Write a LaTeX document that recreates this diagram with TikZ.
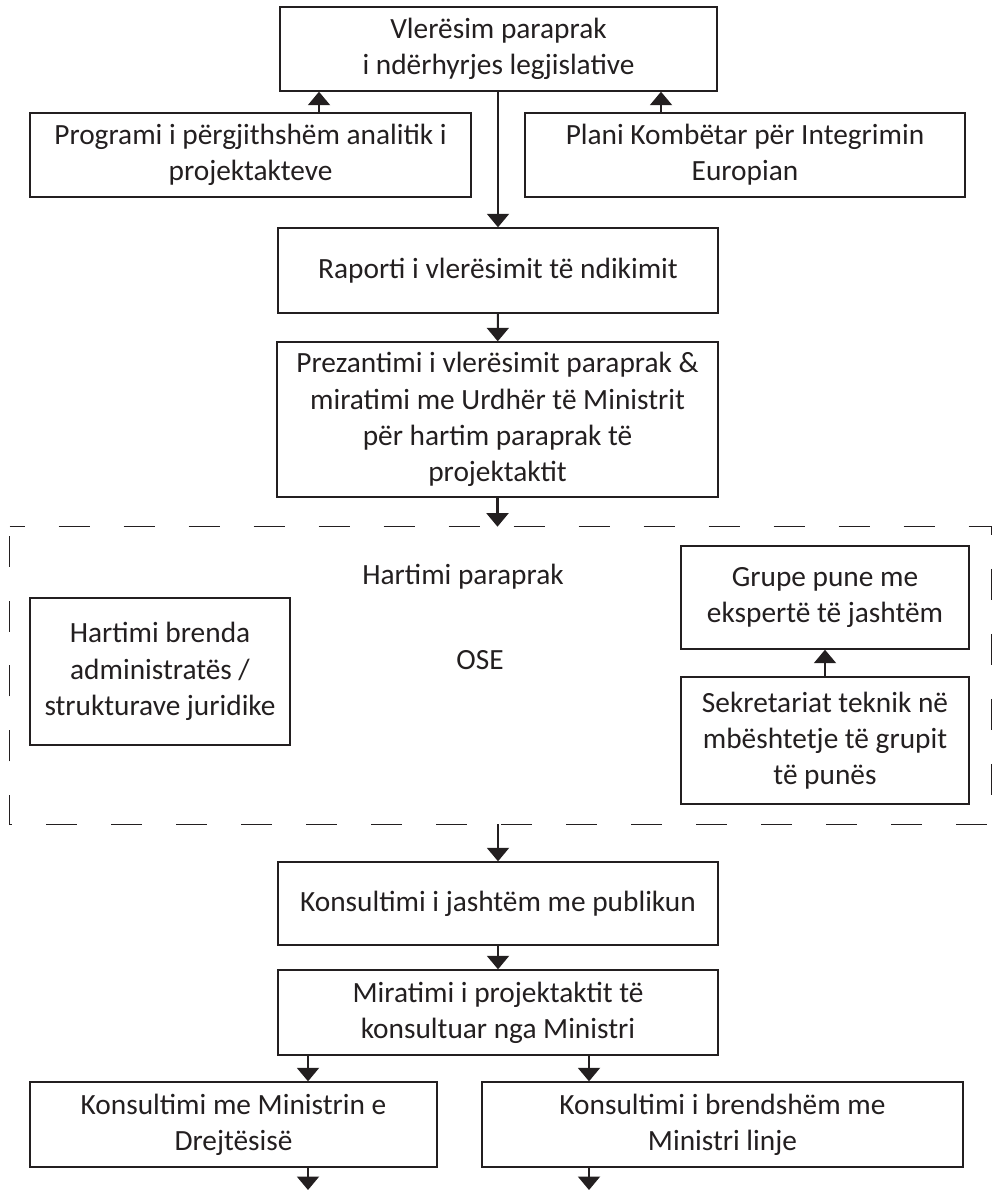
\documentclass[tikz,border=0pt]{standalone}
\usepackage{fontspec}
\setmainfont{Carlito}
\usetikzlibrary{arrows.meta}
\definecolor{ink}{HTML}{231F20}

\begin{document}
\begin{tikzpicture}[x=0.02cm, y=-0.02cm,
                    box/.style={draw=ink, line width=0.8pt, text=ink, align=center,
                                inner sep=2pt, font=\fontsize{16.7}{20.6}\selectfont},
                    dashbox/.style={draw=ink, line width=0.8pt, dash pattern=on 0.62cm off 0.68cm,
                                    dash phase=0.32cm},
                    lbl/.style={text=ink, font=\fontsize{16.7}{20.6}\selectfont},
                    arr/.style={draw=ink, line width=1.2pt, -{Triangle[width=0.44cm, length=0.27cm]}}
                    ]
    \useasboundingbox (0,0) rectangle (993,1190);
    \node[box, minimum width=8.74cm, minimum height=1.68cm] (vler) at (498.5,49)
        {Vlerësim paraprak\\ i ndërhyrjes legjislative};
    \node[box, minimum width=8.82cm, minimum height=1.68cm] (prog) at (250.5,155)
        {Programi i përgjithshëm analitik i\\ projektakteve};
    \node[box, minimum width=8.8cm, minimum height=1.68cm] (plani) at (745,155)
        {Plani Kombëtar për Integrimin\\ Europian};
    \node[box, minimum width=8.8cm, minimum height=1.7cm] (rap) at (498,270.5)
        {Raporti i vlerësimit të ndikimit};
    \node[box, minimum width=8.82cm, minimum height=3.1cm] (prez) at (497.5,419.5)
        {Prezantimi i vlerësimit paraprak \&\\ miratimi me Urdhër të Ministrit\\ për hartim paraprak të\\ projektaktit};
    \node[minimum width=19.62cm, minimum height=5.94cm] (hart) at (500.5,675.5) {};
    \draw[dashbox] (hart.north west) -- (hart.north east) -- (hart.south east)
        -- (hart.south west) -- cycle;
    \node[lbl] (hartl) at (463,577) {Hartimi paraprak};
    \node[box, minimum width=5.2cm, minimum height=2.94cm] (brenda) at (160,671.5)
        {Hartimi brenda\\ administratës /\\ strukturave juridike};
    \node[lbl] (ose) at (480,660) {OSE};
    \node[box, minimum width=5.76cm, minimum height=2.06cm] (grupe) at (825,597.5)
        {Grupe pune me\\ ekspertë të jashtëm};
    \node[box, minimum width=5.76cm, minimum height=2.54cm] (sekr) at (825,740.5)
        {Sekretariat teknik në\\ mbështetje të grupit\\ të punës};
    \node[box, minimum width=8.8cm, minimum height=1.66cm] (kons) at (498,903.5)
        {Konsultimi i jashtëm me publikun};
    \node[box, minimum width=8.8cm, minimum height=1.7cm] (mir) at (498,1012.5)
        {Miratimi i projektaktit të\\ konsultuar nga Ministri};
    \node[box, minimum width=8.14cm, minimum height=1.7cm] (drejt) at (233.5,1124.5)
        {Konsultimi me Ministrin e\\ Drejtësisë};
    \node[box, minimum width=9.62cm, minimum height=1.7cm] (linje) at (722.5,1124.5)
        {Konsultimi i brendshëm me\\ Ministri linje};

    \coordinate (pa) at (319,0);
    \coordinate (pb) at (661,0);
    \coordinate (ma) at (308,1190);
    \coordinate (mb) at (589,1190);

    \draw[arr] (prog.north -| pa) -- (vler.south -| pa);
    \draw[arr] (plani.north -| pb) -- (vler.south -| pb);
    \draw[arr] (vler.south -| rap.north) -- (rap.north);
    \draw[arr] (rap) -- (prez);
    \draw[arr] (prez.south) -- (prez.south |- hart.north);
    \draw[arr] (sekr) -- (grupe);
    \draw[arr] (kons.north |- hart.south) -- (kons.north);
    \draw[arr] (kons) -- (mir);
    \draw[arr] (mir.south -| ma) -- (drejt.north -| ma);
    \draw[arr] (mir.south -| mb) -- (linje.north -| mb);
    \draw[arr] (drejt.south -| ma) -- (ma);
    \draw[arr] (linje.south -| mb) -- (mb);
\end{tikzpicture}
\end{document}
